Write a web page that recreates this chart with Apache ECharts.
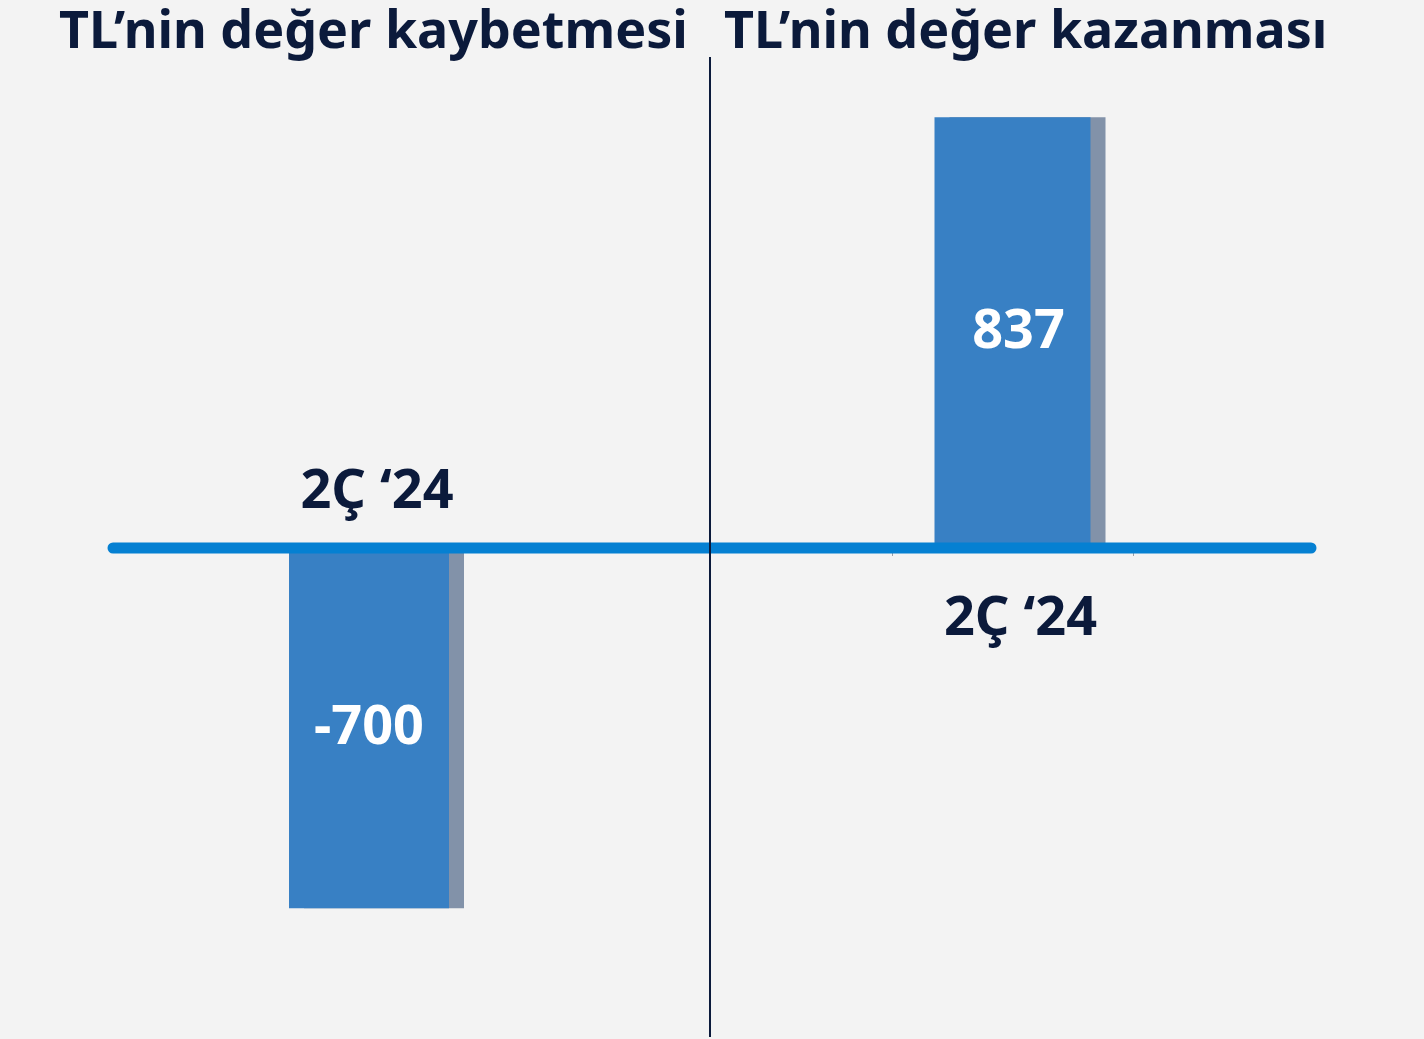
<!DOCTYPE html>
<html>
<head>
<meta charset="utf-8">
<script src="https://cdn.jsdelivr.net/npm/echarts@6/dist/echarts.min.js"></script>
<style>
	html, body { margin: 0; padding: 0; background: #f3f3f3; }
	#chart { width: 1424px; height: 1039px; }
</style>
</head>
<body>
<div id="chart"></div>
<script>
var titles = ['TL’nin değer kaybetmesi', 'TL’nin değer kazanması'];
var lossCategories = ['2Ç ‘24'];
var lossValues = [-700];
var gainCategories = ['2Ç ‘24'];
var gainValues = [837];

var navy = '#0b1a3b';
var barBlue = '#3880c4';
var shadowGrey = '#8292a9';
var font = 'Noto Sans';

var chart = echarts.init(document.getElementById('chart'));

function xAxisFor(idx, cats, pos, ticks) {
	return {
		type: 'category',
		gridIndex: idx,
		position: pos,
		data: cats,
		axisLine: { show: false, onZero: false },
		axisTick: { show: ticks, length: 8, lineStyle: { color: '#9aa0a8', width: 1 } },
		axisLabel: {
			color: navy,
			fontFamily: font,
			fontWeight: 'bold',
			fontSize: 54,
			margin: pos == 'top' ? 28 : 45,
			padding: [0, 0, 0, 16]
		}
	};
}

// left grid holds only the negative side, right grid only the positive side
function yAxisFor(idx, lo, hi) {
	return {
		type: 'value',
		gridIndex: idx,
		min: lo,
		max: hi,
		show: false,
		splitLine: { show: false }
	};
}

function barSeries(idx, values) {
	return {
		type: 'bar',
		xAxisIndex: idx,
		yAxisIndex: idx,
		data: values,
		barWidth: idx == 0 ? 160 : 156,
		itemStyle: {
			color: barBlue,
			shadowColor: shadowGrey,
			shadowBlur: 0,
			shadowOffsetX: 15
		},
		label: {
			show: true,
			position: 'inside',
			color: '#fff',
			fontFamily: font,
			fontWeight: 'bold',
			fontSize: 54,
			padding: idx == 0 ? 0 : [0, 0, 0, 12]
		}
	};
}

var option = {
	backgroundColor: '#f3f3f3',
	title: [
		{ text: titles[0], left: 54, top: 2, textStyle: { color: navy, fontFamily: font, fontWeight: 'bold', fontSize: 52 } },
		{ text: titles[1], left: 719, top: 2, textStyle: { color: navy, fontFamily: font, fontWeight: 'bold', fontSize: 52 } }
	],
	grid: [
		{ left: 248, width: 242, top: 548, height: 489, outerBoundsMode: 'none' },
		{ left: 892, width: 241, top: 59, height: 489, outerBoundsMode: 'none' }
	],
	xAxis: [
		xAxisFor(0, lossCategories, 'top', false),
		xAxisFor(1, gainCategories, 'bottom', true)
	],
	yAxis: [yAxisFor(0, -950, 0), yAxisFor(1, 0, 950)],
	series: [barSeries(0, lossValues), barSeries(1, gainValues)],
	graphic: [
		{
			type: 'line',
			z: 100,
			shape: { x1: 113, y1: 548, x2: 1311, y2: 548 },
			style: { stroke: '#0580d2', lineWidth: 11, lineCap: 'round' }
		},
		{
			type: 'line',
			z: 101,
			shape: { x1: 710, y1: 57, x2: 710, y2: 1037 },
			style: { stroke: navy, lineWidth: 2 }
		}
	]
};

chart.setOption(option);
</script>
</body>
</html>
